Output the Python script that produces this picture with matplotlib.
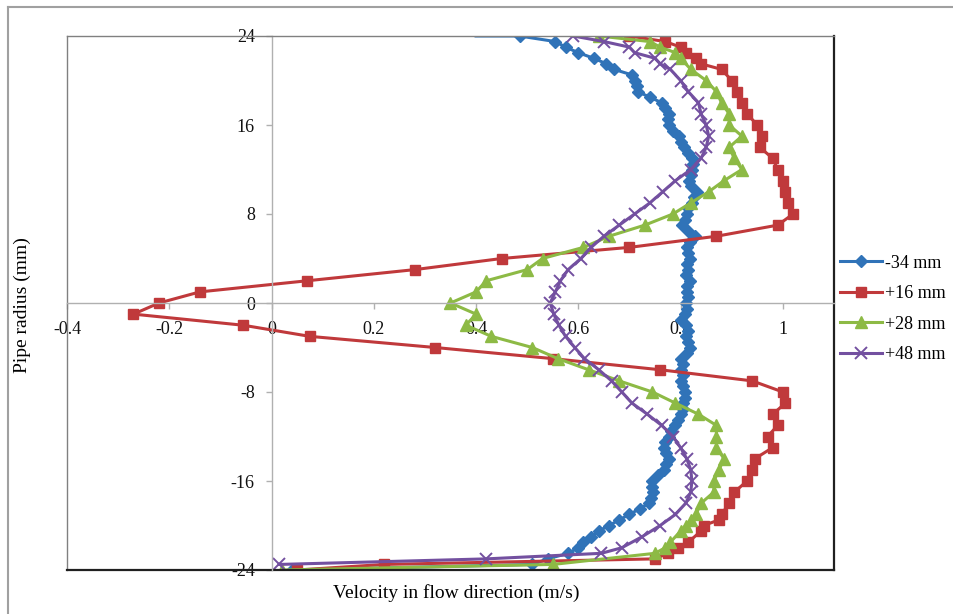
import matplotlib
matplotlib.use('Agg')
import matplotlib.pyplot as plt
from matplotlib.lines import Line2D

plt.rcParams['font.family'] = ['Liberation Serif', 'DejaVu Serif']
plt.rcParams['axes.unicode_minus'] = False

# pipe radius (mm) and velocity (m/s) for each probe position
r_m34 = [24, 24, 23.5, 23, 22.5, 22, 21.5, 21, 20.5, 20, 19.5, 19, 18.5, 18, 17.5, 17,
         16.5, 16, 15.5, 15, 14.5, 14, 13.5, 13, 12.5, 12, 11.5, 11, 10.5, 10, 9.5, 9,
         8.5, 8, 7.5, 7, 6.5, 6, 5.5, 5, 4.5, 4, 3.5, 3, 2.5, 2, 1.5, 1, 0.5, 0,
         -0.5, -1, -1.5, -2, -2.5, -3, -3.5, -4, -4.5, -5, -5.5, -6, -6.5, -7, -7.5, -8,
         -8.5, -9, -9.5, -10, -10.5, -11, -11.5, -12, -12.5, -13, -13.5, -14, -14.5, -15,
         -15.5, -16, -16.5, -17, -17.5, -18, -18.5, -19, -19.5, -20, -20.5, -21, -21.5,
         -22, -22.5, -23, -23.5, -24]
v_m34 = [0.40, 0.485, 0.555, 0.575, 0.60, 0.63, 0.655, 0.67, 0.705, 0.71, 0.714, 0.716,
         0.74, 0.763, 0.77, 0.777, 0.775, 0.777, 0.785, 0.796, 0.80, 0.806, 0.815, 0.822,
         0.825, 0.822, 0.82, 0.816, 0.82, 0.832, 0.826, 0.822, 0.815, 0.812, 0.808, 0.802,
         0.815, 0.828, 0.818, 0.812, 0.815, 0.818, 0.812, 0.815, 0.81, 0.818, 0.813, 0.812,
         0.815, 0.81, 0.812, 0.808, 0.80, 0.81, 0.815, 0.81, 0.815, 0.818, 0.812, 0.80,
         0.805, 0.80, 0.805, 0.80, 0.805, 0.808, 0.808, 0.805, 0.805, 0.80, 0.795, 0.79,
         0.782, 0.777, 0.77, 0.767, 0.772, 0.777, 0.772, 0.767, 0.755, 0.745, 0.745, 0.747,
         0.742, 0.738, 0.72, 0.70, 0.68, 0.66, 0.64, 0.625, 0.61, 0.60, 0.58, 0.54, 0.51,
         0.04]

r_p16 = [24, 23.5, 23, 22.5, 22, 21.5, 21, 20, 19, 18, 17, 16, 15, 14, 13, 12, 11, 10, 9,
         8, 7, 6, 5, 4, 3, 2, 1, 0, -1, -2, -3, -4, -5, -6, -7, -8, -9, -10, -11, -12,
         -13, -14, -15, -16, -17, -18, -19, -19.5, -20, -20.5, -21.5, -22, -22.5, -23,
         -23.5, -24]
v_p16 = [0.70, 0.77, 0.80, 0.81, 0.83, 0.84, 0.88, 0.90, 0.91, 0.92, 0.93, 0.95, 0.96,
         0.955, 0.98, 0.99, 1.00, 1.005, 1.01, 1.02, 0.99, 0.87, 0.70, 0.45, 0.28, 0.07,
         -0.14, -0.22, -0.27, -0.055, 0.075, 0.32, 0.55, 0.76, 0.94, 1.00, 1.005, 0.98,
         0.99, 0.97, 0.98, 0.945, 0.94, 0.93, 0.905, 0.895, 0.88, 0.875, 0.845, 0.84,
         0.815, 0.795, 0.775, 0.75, 0.22, 0.05]

r_p28 = [24, 23.5, 23, 22.5, 22, 21, 20, 19, 18, 17, 16, 15, 14, 13, 12, 11, 10, 9, 8,
         7, 6, 5, 4, 3, 2, 1, 0, -1, -2, -3, -4, -5, -6, -7, -8, -9, -10, -11, -12, -13,
         -14, -15, -16, -17, -18, -19, -19.5, -20, -20.5, -21.5, -22, -22.5, -23.5, -24]
v_p28 = [0.64, 0.74, 0.76, 0.79, 0.80, 0.82, 0.85, 0.87, 0.88, 0.895, 0.895, 0.92,
         0.895, 0.905, 0.92, 0.885, 0.855, 0.82, 0.785, 0.73, 0.66, 0.61, 0.53, 0.50,
         0.42, 0.40, 0.35, 0.40, 0.38, 0.43, 0.51, 0.56, 0.62, 0.68, 0.745, 0.79, 0.835,
         0.87, 0.87, 0.87, 0.885, 0.875, 0.865, 0.865, 0.84, 0.83, 0.82, 0.81, 0.80,
         0.78, 0.77, 0.75, 0.55, 0.02]

r_p48 = [24, 23.5, 23, 22.5, 22, 21.5, 21, 20, 19, 18, 17, 16, 15, 14, 13, 12, 11, 10,
         9, 8, 7, 6, 5, 4, 3, 2, 1, 0, -1, -2, -3, -4, -5, -6, -7, -8, -9, -10, -11, -12,
         -13, -14, -15, -16, -17, -18, -19, -20, -21, -22, -22.5, -23, -23.5]
v_p48 = [0.59, 0.65, 0.70, 0.71, 0.75, 0.76, 0.78, 0.80, 0.815, 0.835, 0.84, 0.85,
         0.855, 0.85, 0.84, 0.82, 0.79, 0.765, 0.74, 0.71, 0.68, 0.65, 0.625, 0.605,
         0.58, 0.565, 0.555, 0.545, 0.552, 0.562, 0.575, 0.593, 0.612, 0.64, 0.665,
         0.685, 0.705, 0.735, 0.763, 0.785, 0.80, 0.812, 0.82, 0.822, 0.82, 0.81, 0.79,
         0.76, 0.725, 0.685, 0.645, 0.42, 0.015]

labels = ['-34 mm', '+16 mm', '+28 mm', '+48 mm']
colors = ['#3073B8', '#C0393B', '#8DBA45', '#7350A0']

fig = plt.figure(figsize=(9.54, 6.14), dpi=100)
ax = fig.add_axes([67 / 954, 44 / 614, 767 / 954, 534 / 614])

ax.plot(v_m34, r_m34, color=colors[0], lw=2.2, marker='D', ms=6.5,
        markevery=list(range(1, len(v_m34))), label=labels[0])
ax.plot(v_p16, r_p16, color=colors[1], lw=2.2, marker='s', ms=7, label=labels[1])
ax.plot(v_p28, r_p28, color=colors[2], lw=2.2, marker='^', ms=8, label=labels[2])
ax.plot(v_p48, r_p48, color=colors[3], lw=2.2, marker='x', ms=8, mew=1.4, label=labels[3])

ax.set_xlim(-0.4, 1.1)
ax.set_ylim(-24, 24)
ax.set_xticks([-0.4, -0.2, 0, 0.2, 0.4, 0.6, 0.8, 1.0])
ax.set_xticklabels(['-0.4', '-0.2', '0', '0.2', '0.4', '0.6', '0.8', '1'])
ax.set_yticks([-24, -16, -8, 0, 8, 16, 24])

# axes cross at zero, like the spreadsheet chart
ax.spines['left'].set_position(('data', 0))
ax.spines['bottom'].set_position(('data', 0))
ax.spines['left'].set_color('#b0b0b0')
ax.spines['bottom'].set_color('#b0b0b0')
ax.spines['left'].set_linewidth(1.0)
ax.spines['bottom'].set_linewidth(1.0)
ax.spines['right'].set_color('#202020')
ax.spines['right'].set_linewidth(1.6)
ax.spines['top'].set_color('#808080')
ax.spines['top'].set_linewidth(1.0)
ax.tick_params(axis='both', colors='#b0b0b0', labelcolor='#111111', labelsize=13,
               length=4, width=1.0, direction='out')
ax.tick_params(axis='y', pad=8)
ax.tick_params(axis='x', pad=9)

# plot-area frame on the left and bottom
ax.add_line(Line2D([0, 0], [0, 1], transform=ax.transAxes, color='#808080', lw=1.0,
                   clip_on=False))
ax.add_line(Line2D([0, 1], [0, 0], transform=ax.transAxes, color='#202020', lw=1.6,
                   clip_on=False))

fig.text(22 / 954, 1 - 305 / 614, 'Pipe radius (mm)', rotation=90, ha='center',
         va='center', fontsize=14)
fig.text(456 / 954, 1 - 593 / 614, 'Velocity in flow direction (m/s)', ha='center',
         va='center', fontsize=14)

fig.legend(loc='center left', bbox_to_anchor=(840 / 954, 1 - 309 / 614), frameon=False,
           fontsize=13, handlelength=2.3, handletextpad=0.2, labelspacing=0.75,
           borderpad=0, borderaxespad=0)

# outer border of the chart area
fig.add_artist(Line2D([8 / 954, 8 / 954], [0, 1 - 7 / 614], color='#a0a0a0', lw=1.5))
fig.add_artist(Line2D([8 / 954, 1], [1 - 7 / 614, 1 - 7 / 614], color='#a0a0a0', lw=1.5))

fig.savefig('out.png', dpi=100)
